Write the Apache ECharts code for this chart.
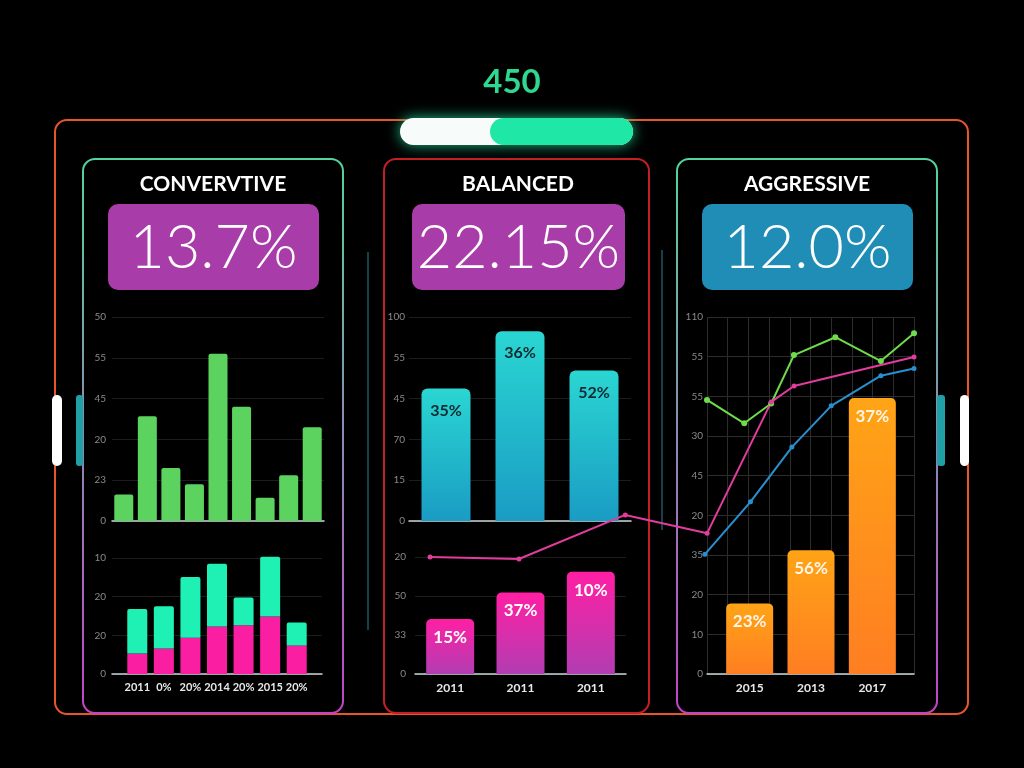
<!DOCTYPE html>
<html><head><meta charset="utf-8">
<script src="https://cdn.jsdelivr.net/npm/echarts@6/dist/echarts.min.js"></script>
<style>html,body{margin:0;padding:0;background:#000;}#c{width:1024px;height:768px;}</style>
</head><body><div id="c"></div>
<script>
// ---------- DATA ----------
const headerValue = '450';
const panelTitles = ['CONVERVTIVE', 'BALANCED', 'AGGRESSIVE'];
const panelValues = ['13.7%', '22.15%', '12.0%'];

const consTopCats = ['1','2','3','4','5','6','7','8','9'];
const consTopValues = [6.5, 25.7, 13, 9, 41, 28, 5.7, 11.2, 23];
const consTopTicks = ['0','23','20','45','55','50'];

const consBotCats = ['2011','0%','20%','2014','20%','2015','20%'];
const consBotPink = [5.3, 6.6, 9.4, 12.3, 12.6, 14.9, 7.4];
const consBotTeal = [11.5, 10.9, 15.7, 16.2, 7.2, 15.4, 5.9];
const consBotTicks = ['0','20','20','10'];

const balTopCats = ['A','B','C'];
const balTopValues = [32.5, 46.5, 36.9];
const balTopLabels = ['35%','36%','52%'];
const balTopTicks = ['0','15','70','45','55','100'];

const balBotCats = ['2011','2011','2011'];
const balBotValues = [14.1, 20.9, 26.2];
const balBotLabels = ['15%','37%','10%'];
const balBotTicks = ['0','33','50','20'];

const aggCats = ['2015','2013','2017'];
const aggBarValues = [17.8, 31.2, 69.6];
const aggBarLabels = ['23%','56%','37%'];
const aggTicks = ['0','10','20','35','20','45','30','55','55','110'];

const greenX = [0, 1.8, 3.1, 4.2, 6.2, 8.4, 10];
const greenY = [69.1, 63.2, 68.2, 80.4, 84.9, 78.9, 85.9];
const blueX = [-0.1, 2.1, 4.1, 6.0, 8.4, 10.0];
const blueY = [30.2, 43.4, 57.2, 67.6, 75.2, 77];
const pinkX = [-13.4, -9.1, -3.96, 0, 3.1, 4.2, 10];
const pinkY = [29.5, 29, 40.1, 35.5, 68.6, 72.6, 79.9];

// ---------- CHART ----------
const chart = echarts.init(document.getElementById('c'));
const FONT = 'Lato, "Open Sans", sans-serif';
const LG = (c0, c1) => new echarts.graphic.LinearGradient(0, 0, 0, 1, [{offset:0,color:c0},{offset:1,color:c1}]);
const zip = (xs, ys) => xs.map((x, i) => [x, ys[i]]);
const fmt = arr => v => { const i = Math.round(v / 10); return arr[i] !== undefined ? arr[i] : ''; };

function yVal(grid, max, ticks, show, margin, splitColor) {
  return {
    type: 'value', gridIndex: grid, min: 0, max: max, interval: 10,
    axisLine: {show: false}, axisTick: {show: false},
    axisLabel: {show: show, formatter: ticks ? fmt(ticks) : undefined, color: '#8a8a8a', fontSize: 10, margin: margin, fontFamily: FONT},
    splitLine: {show: show, lineStyle: {color: splitColor || '#1c1c1c', width: 1}}
  };
}
function xCat(grid, data, showLabels, showLine, fontSize) {
  return {
    type: 'category', gridIndex: grid, data: data,
    axisLine: {show: showLine, lineStyle: {color: '#c9d6d6', width: 1.5}},
    axisTick: {show: false},
    axisLabel: {show: showLabels, interval: 0, color: '#e8e8e8', fontSize: fontSize || 12, fontWeight: 'bold', margin: 8, fontFamily: FONT}
  };
}

const graphics = [];
graphics.push({type:'rect', z:-10, shape:{x:55,y:120,width:913,height:594,r:12}, style:{fill:'none', stroke:'#e8542c', lineWidth:2}});
graphics.push({type:'rect', z:-5, shape:{x:83,y:159,width:260,height:554,r:12}, style:{fill:'#000', stroke:LG('#52d49c','#c442c8'), lineWidth:2}});
graphics.push({type:'rect', z:-5, shape:{x:384,y:159,width:265,height:554,r:12}, style:{fill:'#000', stroke:'#c41f25', lineWidth:2}});
graphics.push({type:'rect', z:-5, shape:{x:677,y:159,width:260,height:554,r:12}, style:{fill:'#000', stroke:LG('#52d49c','#c442c8'), lineWidth:2}});
graphics.push({type:'line', z:-4, shape:{x1:368,y1:252,x2:368,y2:630}, style:{stroke:'#2b7f9a', lineWidth:1}});
graphics.push({type:'line', z:-4, shape:{x1:662,y1:250,x2:662,y2:530}, style:{stroke:'#2b7f9a', lineWidth:1}});
graphics.push({type:'rect', shape:{x:52,y:395,width:10,height:71,r:5}, style:{fill:'#ffffff'}});
graphics.push({type:'rect', shape:{x:76,y:395,width:7,height:71,r:3}, style:{fill:'#1f9fa6'}});
graphics.push({type:'rect', shape:{x:937,y:395,width:8,height:71,r:3}, style:{fill:'#1f9fa6'}});
graphics.push({type:'rect', shape:{x:960,y:395,width:9,height:71,r:4.5}, style:{fill:'#ffffff'}});
graphics.push({type:'rect', shape:{x:400,y:118,width:233,height:27,r:13.5}, style:{fill:'#f7fcfa', shadowBlur:14, shadowColor:'rgba(40,240,170,0.8)'}});
graphics.push({type:'rect', shape:{x:490,y:118,width:143,height:27,r:13.5}, style:{fill:'#1fe8a6'}});
graphics.push({type:'text', style:{text:headerValue, x:512, y:82, fill:'#2fd890', font:'bold 33px ' + FONT, textAlign:'center', textVerticalAlign:'middle'}});
const boxes = [
  {cx:213, bx:108, bw:211, color:'#a83ca8'},
  {cx:518, bx:412, bw:213, color:'#a83ca8'},
  {cx:807, bx:702, bw:211, color:'#1f8db6'}
];
boxes.forEach((b, i) => {
  graphics.push({type:'text', style:{text:panelTitles[i], x:b.cx, y:184, fill:'#ffffff', font:'bold 21px ' + FONT, textAlign:'center', textVerticalAlign:'middle'}});
  graphics.push({type:'rect', shape:{x:b.bx,y:204,width:b.bw,height:86,r:10}, style:{fill:b.color}});
  graphics.push({type:'text', style:{text:panelValues[i], x:b.bx + b.bw/2, y:248, fill:'#ffffff', font:'300 61px ' + FONT, textAlign:'center', textVerticalAlign:'middle'}});
});

const option = {
  backgroundColor: '#000',
  animation: false,
  graphic: graphics,
  grid: [
    {left:112, top:317, width:212, height:204},
    {left:112, top:558, width:210, height:116},
    {left:124, top:558, width:186, height:116},
    {left:409, top:317, width:222, height:204},
    {left:415, top:557, width:211, height:117},
    {left:707, top:317, width:207, height:357},
    {left:719, top:317, width:184, height:357},
    {left:430, top:317, width:484, height:357}
  ],
  xAxis: [
    xCat(0, consTopCats, false, true),
    {type:'value', gridIndex:1, min:0, max:1, axisLine:{show:true, lineStyle:{color:'#c9d6d6', width:1.5}}, axisTick:{show:false}, axisLabel:{show:false}, splitLine:{show:false}},
    xCat(2, consBotCats, true, false, 11),
    xCat(3, balTopCats, false, true),
    xCat(4, balBotCats, true, true),
    {type:'value', gridIndex:5, min:0, max:10, interval:1, axisLine:{show:true, lineStyle:{color:'#c9d6d6', width:1.5}}, axisTick:{show:false}, axisLabel:{show:false}, splitLine:{show:true, lineStyle:{color:'#2c2c2c'}}},
    xCat(6, aggCats, true, false),
    {type:'value', gridIndex:7, min:pinkX[0], max:10, show:false}
  ],
  yAxis: [
    yVal(0, 50, consTopTicks, true, 6),
    yVal(1, 30, consBotTicks, true, 6),
    yVal(2, 30, null, false, 0),
    yVal(3, 50, balTopTicks, true, 4),
    yVal(4, 30, balBotTicks, true, 9),
    yVal(5, 90, aggTicks, true, 4, '#2c2c2c'),
    yVal(6, 90, null, false, 0),
    {type:'value', gridIndex:7, min:0, max:90, show:false}
  ],
  series: [
    {type:'bar', xAxisIndex:0, yAxisIndex:0, data:consTopValues, barWidth:19, itemStyle:{color:'#5cd35f', borderRadius:[2,2,0,0]}},
    {type:'bar', xAxisIndex:2, yAxisIndex:2, stack:'c', data:consBotPink, barWidth:20, itemStyle:{color:'#fa1fa2'}},
    {type:'bar', xAxisIndex:2, yAxisIndex:2, stack:'c', data:consBotTeal, barWidth:20, clip:false, itemStyle:{color:'#1ff0b4', borderRadius:[2,2,0,0]}},
    {type:'bar', xAxisIndex:3, yAxisIndex:3, data:balTopValues, barWidth:49,
      itemStyle:{color:LG('#2ad6d2','#1a9cc4'), borderRadius:[6,6,0,0]},
      label:{show:true, position:'insideTop', distance:14, formatter:p => balTopLabels[p.dataIndex], color:'#0f2a30', fontSize:16, fontWeight:'bold', fontFamily:FONT}},
    {type:'bar', xAxisIndex:4, yAxisIndex:4, data:balBotValues, barWidth:48,
      itemStyle:{color:LG('#ff1fa4','#b23db2'), borderRadius:[5,5,0,0]},
      label:{show:true, position:'insideTop', distance:10, formatter:p => balBotLabels[p.dataIndex], color:'#ffffff', fontSize:17, fontWeight:'bold', fontFamily:FONT}},
    {type:'bar', xAxisIndex:6, yAxisIndex:6, data:aggBarValues, barWidth:47,
      itemStyle:{color:LG('#ffa416','#ff7e22'), borderRadius:[5,5,0,0]},
      label:{show:true, position:'insideTop', distance:10, formatter:p => aggBarLabels[p.dataIndex], color:'#fff6e6', fontSize:17, fontWeight:'bold', fontFamily:FONT}},
    {type:'line', xAxisIndex:5, yAxisIndex:5, data:zip(greenX, greenY), clip:false, symbol:'circle', symbolSize:6,
      lineStyle:{color:'#6fdc4c', width:2}, itemStyle:{color:'#6fdc4c'}},
    {type:'line', xAxisIndex:5, yAxisIndex:5, data:zip(blueX, blueY), clip:false, symbol:'circle', symbolSize:5,
      lineStyle:{color:'#2a8fd0', width:2}, itemStyle:{color:'#2a8fd0'}},
    {type:'line', xAxisIndex:7, yAxisIndex:7, data:zip(pinkX, pinkY), clip:false, symbol:'circle', symbolSize:5,
      lineStyle:{color:'#e23c9e', width:2}, itemStyle:{color:'#e23c9e'}}
  ]
};
chart.setOption(option);
</script>
</body></html>
